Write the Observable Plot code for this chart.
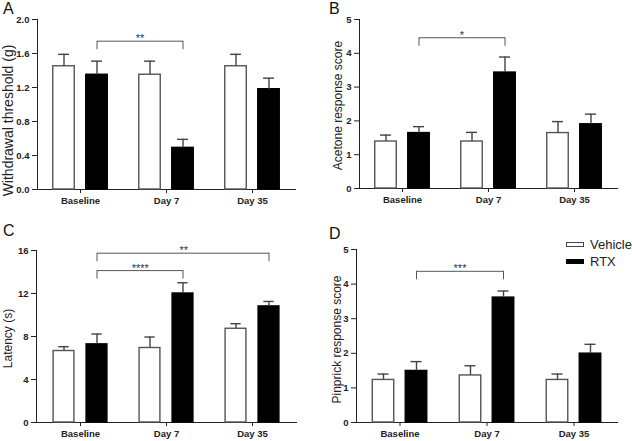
<!DOCTYPE html>
<html>
<head>
<meta charset="utf-8">
<script src="https://cdn.jsdelivr.net/npm/d3@7"></script>
<script src="https://cdn.jsdelivr.net/npm/@observablehq/plot@0.6"></script>
<style>
  body { margin: 0; background: #fff; font-family: "Liberation Sans", Arial, sans-serif; }
  #wrap { position: relative; width: 632px; height: 441px; overflow: hidden; background: #fff; }
  .panel { position: absolute; }
  .letter { position: absolute; font-size: 16px; line-height: 1; color: #111; }
  .leg-row { position: absolute; display: flex; align-items: center; font-size: 13px; color: #222; white-space: nowrap; }
  .leg-box { width: 18px; height: 5px; box-sizing: border-box; margin-right: 6px; }
</style>
</head>
<body>
<div id="wrap"></div>
<script>
// ---------- data ----------
const groups = ["Baseline", "Day 7", "Day 35"];
const treatments = ["Vehicle", "RTX"];

// A: withdrawal threshold (g)
const withdrawalVehicle = [1.45, 1.35, 1.45];
const withdrawalVehicleSem = [0.14, 0.16, 0.14];
const withdrawalRTX = [1.35, 0.49, 1.18];
const withdrawalRTXSem = [0.16, 0.10, 0.13];
const withdrawalTicks = [0, 0.4, 0.8, 1.2, 1.6, 2.0];
const withdrawalBrackets = [{from: "Baseline", to: "Day 7", y: 1.745, label: "**"}];

// B: acetone response score
const acetoneVehicle = [1.39, 1.39, 1.64];
const acetoneVehicleSem = [0.19, 0.27, 0.34];
const acetoneRTX = [1.64, 3.43, 1.90];
const acetoneRTXSem = [0.19, 0.46, 0.30];
const acetoneTicks = [0, 1, 2, 3, 4, 5];
const acetoneBrackets = [{from: "Baseline", to: "Day 7", y: 4.46, label: "*"}];

// C: latency (s)
const latencyVehicle = [6.65, 6.93, 8.72];
const latencyVehicleSem = [0.40, 1.02, 0.47];
const latencyRTX = [7.27, 12.0, 10.8];
const latencyRTXSem = [0.96, 1.0, 0.46];
const latencyTicks = [0, 4, 8, 12, 16];
const latencyBrackets = [
  {from: "Baseline", to: "Day 7", y: 14.13, label: "****"},
  {from: "Baseline", to: "Day 35", y: 15.75, label: "**"}
];

// D: pinprick response score
const pinprickVehicle = [1.23, 1.36, 1.23];
const pinprickVehicleSem = [0.17, 0.28, 0.17];
const pinprickRTX = [1.49, 3.61, 1.99];
const pinprickRTXSem = [0.27, 0.19, 0.27];
const pinprickTicks = [0, 1, 2, 3, 4, 5];
const pinprickBrackets = [{from: "Baseline", to: "Day 7", y: 4.37, label: "***"}];

// ---------- drawing ----------
const wrap = document.getElementById("wrap");
const FONT = "Liberation Sans, Arial, Helvetica, sans-serif";

function panel(o) {
  const rows = [];
  groups.forEach((g, i) => {
    rows.push({group: g, treatment: "Vehicle", mean: o.veh[i], upper: o.veh[i] + o.vehSem[i]});
    rows.push({group: g, treatment: "RTX", mean: o.rtx[i], upper: o.rtx[i] + o.rtxSem[i]});
  });
  const bw = (o.width - o.ml - o.mr) / groups.length;
  const off = 16.5, barW = 21.5, capW = 11;
  const marks = [];
  for (const t of treatments) {
    const d = rows.filter(r => r.treatment === t);
    const s = t === "Vehicle" ? -1 : 1;
    const c = bw / 2 + s * off;
    marks.push(Plot.barY(d, {
      x: "group", y: "mean",
      insetLeft: c - barW / 2, insetRight: bw - c - barW / 2,
      fill: t === "Vehicle" ? "#fff" : "#000",
      stroke: t === "Vehicle" ? "#555" : "#000", strokeWidth: 1.4
    }));
    marks.push(Plot.ruleX(d, {x: "group", y1: "mean", y2: "upper", dx: s * off, stroke: "#444", strokeWidth: 1.4}));
    marks.push(Plot.tickY(d, {
      x: "group", y: "upper",
      insetLeft: c - capW / 2, insetRight: bw - c - capW / 2,
      stroke: "#444", strokeWidth: 1.4
    }));
  }
  // significance brackets (between RTX bars)
  const ends = o.brackets.flatMap(b => [{group: b.from, y: b.y}, {group: b.to, y: b.y}]);
  marks.push(Plot.link(o.brackets, {x1: "from", x2: "to", y1: "y", y2: "y", dx: off, stroke: "#555", strokeWidth: 1}));
  marks.push(Plot.ruleX(ends, {x: "group", y1: "y", y2: "y", dx: off, insetTop: 0, insetBottom: -8.5, stroke: "#555", strokeWidth: 1}));
  for (const b of o.brackets) {
    const span = groups.indexOf(b.to) - groups.indexOf(b.from);
    marks.push(Plot.text([b], {
      x: "from", y: "y", text: "label",
      dx: off + span * bw / 2, dy: 1,
      lineAnchor: "bottom", textAnchor: "middle",
      fontSize: 11, fontWeight: "normal", fill: "#333"
    }));
  }
  // y-axis title
  const frameMidY = (o.mt + o.height - o.mb) / 2;
  marks.push(Plot.text([o.yLabel], {
    frameAnchor: "left", text: d => d, rotate: -90,
    dx: o.labelX - o.ml, dy: o.labelY - o.top - frameMidY,
    textAnchor: "middle", lineAnchor: "middle",
    fontSize: o.labelSize, fontWeight: "normal", fill: "#222"
  }));

  const svg = Plot.plot({
    width: o.width, height: o.height,
    marginLeft: o.ml, marginRight: o.mr, marginTop: o.mt, marginBottom: o.mb,
    style: {fontFamily: FONT, fontSize: "9.5px", fontWeight: "bold", color: "#222", background: "transparent", overflow: "visible"},
    x: {domain: groups, padding: 0, line: true, tickSize: 4, tickPadding: 4, label: null},
    y: {domain: o.yDomain, ticks: o.ticks, tickFormat: o.fmt, line: true, tickSize: 5, tickPadding: 3, label: null},
    marks
  });
  const div = document.createElement("div");
  div.className = "panel";
  div.style.left = o.left + "px";
  div.style.top = o.top + "px";
  div.appendChild(svg);
  wrap.appendChild(div);

  const L = document.createElement("div");
  L.className = "letter";
  L.textContent = o.letter;
  L.style.left = o.letterX + "px";
  L.style.top = o.letterY + "px";
  wrap.appendChild(L);
}

panel({letter: "A", letterX: 3, letterY: 1, left: 0, top: 0, width: 316, height: 220, ml: 37, mr: 21, mt: 19, mb: 31,
  veh: withdrawalVehicle, vehSem: withdrawalVehicleSem, rtx: withdrawalRTX, rtxSem: withdrawalRTXSem,
  yDomain: [0, 2], ticks: withdrawalTicks, fmt: d3.format(".1f"), brackets: withdrawalBrackets,
  yLabel: "Withdrawal threshold (g)", labelX: 8.5, labelY: 120, labelSize: 14});

panel({letter: "B", letterX: 329, letterY: 1, left: 316, top: 0, width: 316, height: 220, ml: 43, mr: 15, mt: 19, mb: 32,
  veh: acetoneVehicle, vehSem: acetoneVehicleSem, rtx: acetoneRTX, rtxSem: acetoneRTXSem,
  yDomain: [0, 5], ticks: acetoneTicks, fmt: d3.format("d"), brackets: acetoneBrackets,
  yLabel: "Acetone response score", labelX: 22, labelY: 105, labelSize: 12});

panel({letter: "C", letterX: 3, letterY: 223, left: 0, top: 220, width: 316, height: 221, ml: 36, mr: 20, mt: 30, mb: 19,
  veh: latencyVehicle, vehSem: latencyVehicleSem, rtx: latencyRTX, rtxSem: latencyRTXSem,
  yDomain: [0, 16], ticks: latencyTicks, fmt: d3.format("d"), brackets: latencyBrackets,
  yLabel: "Latency (s)", labelX: 8, labelY: 338, labelSize: 12});

panel({letter: "D", letterX: 329, letterY: 226, left: 316, top: 220, width: 316, height: 221, ml: 40, mr: 15, mt: 29, mb: 19,
  veh: pinprickVehicle, vehSem: pinprickVehicleSem, rtx: pinprickRTX, rtxSem: pinprickRTXSem,
  yDomain: [0, 5], ticks: pinprickTicks, fmt: d3.format("d"), brackets: pinprickBrackets,
  yLabel: "Pinprick response score", labelX: 21, labelY: 339, labelSize: 12});

// legend
const legendTop = [236, 253];
treatments.forEach((t, i) => {
  const row = document.createElement("div");
  row.className = "leg-row";
  row.style.left = "566px";
  row.style.top = legendTop[i] + "px";
  row.style.height = "17px";
  const box = document.createElement("span");
  box.className = "leg-box";
  box.style.background = t === "Vehicle" ? "#fff" : "#000";
  box.style.border = t === "Vehicle" ? "1px solid #444" : "1px solid #000";
  const label = document.createElement("span");
  label.textContent = t;
  row.appendChild(box);
  row.appendChild(label);
  wrap.appendChild(row);
});
</script>
</body>
</html>
